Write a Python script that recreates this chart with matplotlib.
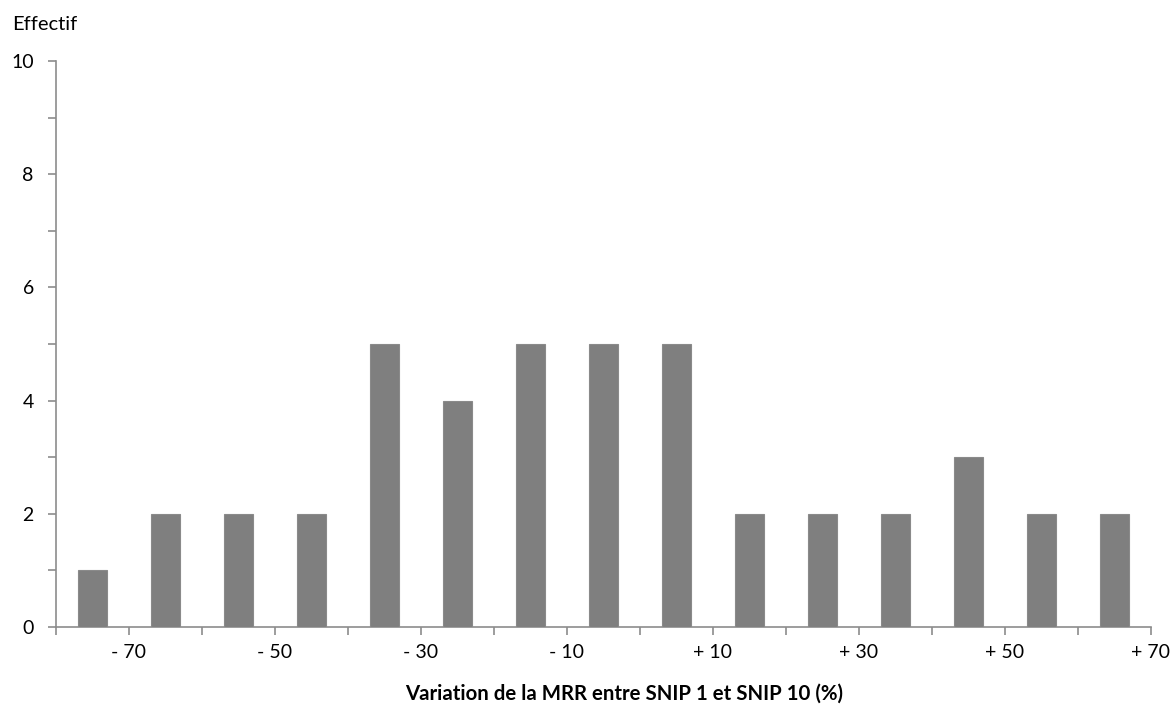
import matplotlib.pyplot as plt
import numpy as np

# histogram of MRR variation, bins of 10 points from -80 to +70
bin_left = [-80, -70, -60, -50, -40, -30, -20, -10, 0, 10, 20, 30, 40, 50, 60]
counts = [1, 2, 2, 2, 5, 4, 5, 5, 5, 2, 2, 2, 3, 2, 2]
tick_labels = ['- 70', '- 50', '- 30', '- 10', '+ 10', '+ 30', '+ 50', '+ 70']
tick_pos = [-70, -50, -30, -10, 10, 30, 50, 70]

plt.rcParams['font.family'] = ['Lato', 'DejaVu Sans']
axcol = '#8c8c8c'

fig = plt.figure(figsize=(11.76, 7.06), dpi=100)
ax = fig.add_axes([0.0476, 0.1119, 0.9311, 0.8017])

centers = np.array(bin_left) + 5
ax.bar(centers, counts, width=4, color='#7f7f7f', edgecolor='#8a8a8a', linewidth=0.8, zorder=3)

ax.set_xlim(-80, 70)
ax.set_ylim(0, 10)
ax.set_yticks([0, 2, 4, 6, 8, 10])
ax.set_yticks([1, 3, 5, 7, 9], minor=True)
ax.set_xticks(tick_pos)
ax.set_xticklabels(tick_labels)
ax.set_xticks([-80, -60, -40, -20, 0, 20, 40, 60], minor=True)

for s in ['top', 'right']:
    ax.spines[s].set_visible(False)
for s in ['left', 'bottom']:
    ax.spines[s].set_color(axcol)
    ax.spines[s].set_linewidth(1.2)

ax.tick_params(axis='y', which='both', direction='out', length=6, width=1.2, color=axcol,
               labelsize=14, pad=10)
ax.tick_params(axis='x', which='both', direction='out', length=6, width=1.2, color=axcol,
               labelsize=14, pad=6)

fig.text(0.010, 0.965, 'Effectif', fontsize=14.5, ha='left', va='center')
fig.text(0.531, 0.017, 'Variation de la MRR entre SNIP 1 et SNIP 10 (%)', fontsize=14.7,
         fontweight='bold', ha='center', va='center')

fig.savefig('out.png', dpi=100)
